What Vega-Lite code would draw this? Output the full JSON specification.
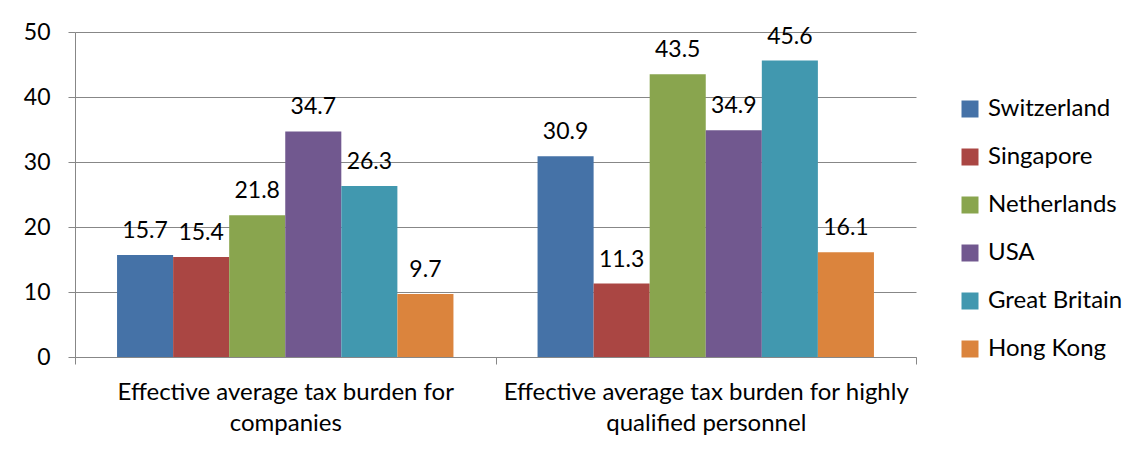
{
  "$schema": "https://vega.github.io/schema/vega-lite/v6.json",
  "width": 841,
  "height": 325,
  "autosize": {"type": "none"},
  "padding": {"left": 75, "top": 32, "right": 230, "bottom": 99},
  "background": "white",
  "config": {
    "font": "Lato",
    "view": {"stroke": null},
    "axis": {
      "domainColor": "#878787",
      "tickColor": "#878787",
      "gridColor": "#878787",
      "labelColor": "black",
      "labelFontSize": 23,
      "labelFont": "Lato",
      "tickSize": 7,
      "titleFontSize": 0
    }
  },
  "data": {
    "values": [
      {"category": "companies", "country": "Switzerland", "value": 15.7},
      {"category": "companies", "country": "Singapore", "value": 15.4},
      {"category": "companies", "country": "Netherlands", "value": 21.8},
      {"category": "companies", "country": "USA", "value": 34.7},
      {"category": "companies", "country": "Great Britain", "value": 26.3},
      {"category": "companies", "country": "Hong Kong", "value": 9.7},
      {"category": "personnel", "country": "Switzerland", "value": 30.9},
      {"category": "personnel", "country": "Singapore", "value": 11.3},
      {"category": "personnel", "country": "Netherlands", "value": 43.5},
      {"category": "personnel", "country": "USA", "value": 34.9},
      {"category": "personnel", "country": "Great Britain", "value": 45.6},
      {"category": "personnel", "country": "Hong Kong", "value": 16.1}
    ]
  },
  "encoding": {
    "x": {
      "field": "category",
      "type": "nominal",
      "sort": ["companies", "personnel"],
      "scale": {"paddingInner": 0, "paddingOuter": 0},
      "axis": {
        "title": null,
        "labelAngle": 0,
        "labelLimit": 0,
        "labelPadding": 16,
        "labelLineHeight": 31,
        "labelBaseline": "top",
        "labelFontSize": 24,
        "tickBand": "extent",
        "labelExpr": "datum.value == 'companies' ? ['Effective average tax burden for', 'companies'] : datum.value == 'personnel' ? ['Effective average tax burden for highly', 'qualified personnel'] : ''"
      }
    },
    "xOffset": {
      "field": "country",
      "type": "nominal",
      "sort": ["Switzerland", "Singapore", "Netherlands", "USA", "Great Britain", "Hong Kong"],
      "scale": {"paddingInner": 0, "paddingOuter": 0.75}
    },
    "y": {
      "field": "value",
      "type": "quantitative",
      "scale": {"domain": [0, 50], "nice": false},
      "axis": {
        "title": null,
        "values": [0, 10, 20, 30, 40, 50],
        "grid": true,
        "labelPadding": 18
      }
    }
  },
  "layer": [
    {
      "mark": {"type": "bar"},
      "encoding": {
        "color": {
          "field": "country",
          "type": "nominal",
          "sort": ["Switzerland", "Singapore", "Netherlands", "USA", "Great Britain", "Hong Kong"],
          "scale": {
            "domain": ["Switzerland", "Singapore", "Netherlands", "USA", "Great Britain", "Hong Kong"],
            "range": ["#4572A7", "#AA4643", "#89A54E", "#71588F", "#4198AF", "#DB843D"]
          },
          "legend": {
            "title": null,
            "orient": "none",
            "legendX": 883,
            "legendY": 65,
            "symbolType": "square",
            "symbolSize": 289,
            "symbolStrokeWidth": 0,
            "labelFontSize": 24,
            "labelFont": "Lato",
            "labelColor": "black",
            "labelOffset": 6,
            "rowPadding": 24,
            "labelLimit": 0
          }
        }
      }
    },
    {
      "mark": {"type": "text", "baseline": "bottom", "dy": -12, "fontSize": 23, "font": "Lato", "color": "black"},
      "encoding": {
        "text": {"field": "value", "type": "quantitative", "format": ".1f"}
      }
    }
  ]
}
